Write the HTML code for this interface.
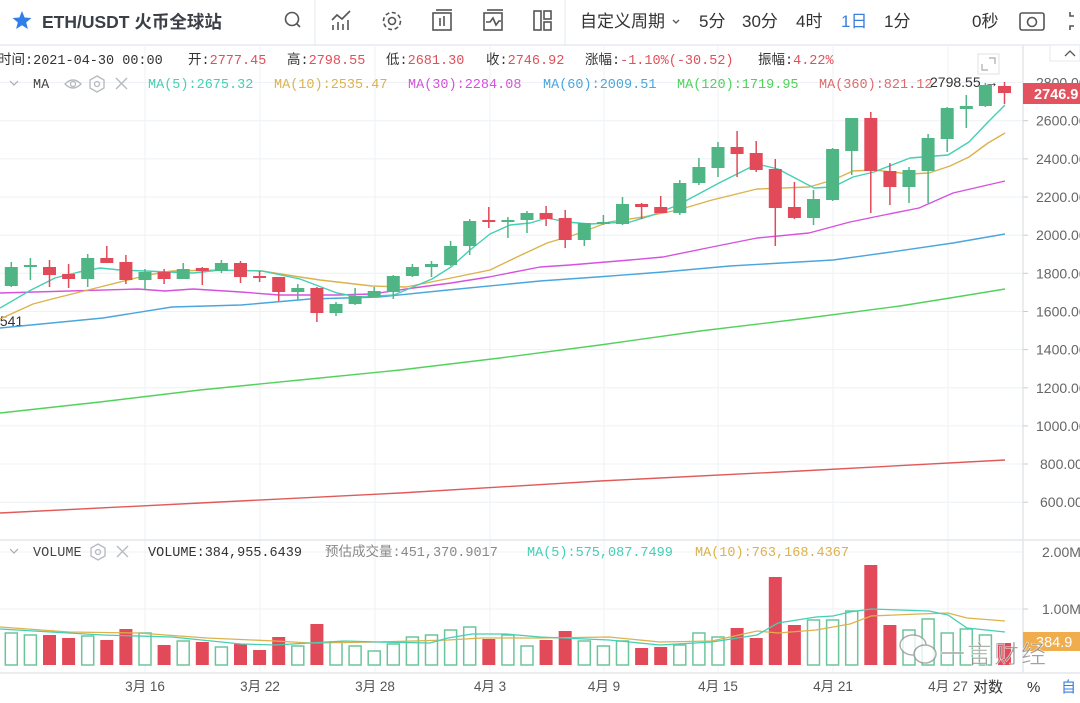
<!DOCTYPE html>
<html><head><meta charset="utf-8"><style>
html,body{margin:0;padding:0;background:#fff;}
body{width:1080px;height:698px;overflow:hidden;position:relative;font-family:"Liberation Sans","Noto Sans CJK SC",sans-serif;}
svg text{font-family:"Liberation Sans","Noto Sans CJK SC",sans-serif;}
.m{font-family:"Liberation Mono","Noto Sans CJK SC",monospace !important;font-size:13.5px;}
</style></head><body>
<svg width="1080" height="698" viewBox="0 0 1080 698" xmlns="http://www.w3.org/2000/svg">
<line x1="0" y1="45" x2="1080" y2="45" stroke="#e6eaef" stroke-width="1.5"/>
<line x1="315" y1="0" x2="315" y2="45" stroke="#e6eaef"/>
<line x1="565" y1="0" x2="565" y2="45" stroke="#e6eaef"/>
<polygon points="22,11 24.6,17.5 31.5,18 26.2,22.4 27.9,29 22,25.3 16.1,29 17.8,22.4 12.5,18 19.4,17.5" fill="#2f7fe8"/>
<text x="42" y="28" font-size="17.5" font-weight="bold" fill="#3a3f48">ETH/USDT 火币全球站</text>
<g fill="none" stroke="#555" stroke-width="1.6">
<circle cx="292" cy="19" r="6.5"/><line x1="297" y1="24" x2="300" y2="27"/>
<polyline points="332,20 337,15 342,19 350,11"/><line x1="333" y1="30" x2="333" y2="25"/><line x1="338" y1="30" x2="338" y2="22"/><line x1="343" y1="30" x2="343" y2="24"/><line x1="348" y1="30" x2="348" y2="20"/>
<circle cx="392" cy="21" r="3.5"/><circle cx="392" cy="21" r="8.5" stroke-dasharray="4 2.6"/>
<rect x="433" y="13" width="18" height="17"/><line x1="436" y1="10" x2="452" y2="10"/><line x1="440" y1="18" x2="440" y2="26"/><line x1="444" y1="16" x2="444" y2="26"/>
<rect x="484" y="13" width="18" height="17"/><line x1="487" y1="10" x2="503" y2="10"/><polyline points="486,22 490,22 493,18 496,25 499,21 501,21"/>
<rect x="534" y="11" width="7" height="19"/><rect x="544" y="11" width="7" height="8"/><rect x="544" y="22" width="7" height="8"/>
<rect x="1020" y="13" width="24" height="17" rx="2"/><circle cx="1032" cy="22" r="4.5"/>
<polyline points="1070,12 1070,16 1074,16"/><polyline points="1070,30 1070,26 1074,26"/>
</g>
<text x="580" y="27" font-size="17" fill="#333">自定义周期</text>
<polyline points="673,20 676,23 679,20" fill="none" stroke="#555" stroke-width="1.3"/>
<text x="699" y="27" font-size="17" fill="#333">5分</text>
<text x="742" y="27" font-size="17" fill="#333">30分</text>
<text x="796" y="27" font-size="17" fill="#333">4时</text>
<text x="841" y="27" font-size="17" fill="#3a7fe0">1日</text>
<text x="884" y="27" font-size="17" fill="#333">1分</text>
<text x="972" y="27" font-size="17" fill="#333">0秒</text>

<g stroke="#eef2f6" stroke-width="1">
<line x1="0" y1="82.5" x2="1023" y2="82.5"/><line x1="0" y1="120.7" x2="1023" y2="120.7"/><line x1="0" y1="158.9" x2="1023" y2="158.9"/><line x1="0" y1="197" x2="1023" y2="197"/><line x1="0" y1="235.2" x2="1023" y2="235.2"/><line x1="0" y1="273.3" x2="1023" y2="273.3"/><line x1="0" y1="311.5" x2="1023" y2="311.5"/><line x1="0" y1="349.6" x2="1023" y2="349.6"/><line x1="0" y1="387.8" x2="1023" y2="387.8"/><line x1="0" y1="425.9" x2="1023" y2="425.9"/><line x1="0" y1="464" x2="1023" y2="464"/><line x1="0" y1="502.2" x2="1023" y2="502.2"/>
<line x1="0" y1="552" x2="1023" y2="552"/><line x1="0" y1="609" x2="1023" y2="609"/>
<line x1="145" y1="45" x2="145" y2="672"/><line x1="260" y1="45" x2="260" y2="672"/><line x1="375" y1="45" x2="375" y2="672"/><line x1="490" y1="45" x2="490" y2="672"/><line x1="604" y1="45" x2="604" y2="672"/><line x1="718" y1="45" x2="718" y2="672"/><line x1="833" y1="45" x2="833" y2="672"/><line x1="948" y1="45" x2="948" y2="672"/>
</g>
<line x1="0" y1="540" x2="1080" y2="540" stroke="#e3e7ec" stroke-width="1.5"/>
<line x1="0" y1="673" x2="1080" y2="673" stroke="#e3e7ec" stroke-width="1.5"/>
<line x1="1023" y1="45" x2="1023" y2="673" stroke="#e3e7ec" stroke-width="1.5"/>
<g stroke="#ccc"><line x1="1023" y1="120.7" x2="1028" y2="120.7"/><line x1="1023" y1="158.9" x2="1028" y2="158.9"/><line x1="1023" y1="197" x2="1028" y2="197"/><line x1="1023" y1="235.2" x2="1028" y2="235.2"/><line x1="1023" y1="273.3" x2="1028" y2="273.3"/><line x1="1023" y1="311.5" x2="1028" y2="311.5"/><line x1="1023" y1="349.6" x2="1028" y2="349.6"/><line x1="1023" y1="387.8" x2="1028" y2="387.8"/><line x1="1023" y1="425.9" x2="1028" y2="425.9"/><line x1="1023" y1="464" x2="1028" y2="464"/><line x1="1023" y1="502.2" x2="1028" y2="502.2"/><line x1="1023" y1="609" x2="1028" y2="609"/></g>

<g font-size="14" fill="#666">
<text x="1036" y="87.5">2800.00</text><text x="1036" y="125.7">2600.00</text><text x="1036" y="163.9">2400.00</text><text x="1036" y="202">2200.00</text><text x="1036" y="240.2">2000.00</text><text x="1036" y="278.3">1800.00</text><text x="1036" y="316.5">1600.00</text><text x="1036" y="354.6">1400.00</text><text x="1036" y="392.8">1200.00</text><text x="1036" y="430.9">1000.00</text><text x="1040" y="469">800.00</text><text x="1040" y="507.2">600.00</text>
<text x="1042" y="557">2.00M</text><text x="1042" y="614">1.00M</text>
</g>
<rect x="1023" y="83" width="57" height="21" fill="#e2535f"/>
<text x="1034" y="99" font-size="14.5" font-weight="bold" fill="#fff">2746.9</text>
<rect x="1023" y="632" width="57" height="19" fill="#f0ad4e"/>
<text x="1036" y="647" font-size="14.5" fill="#fff">384.9</text>

<text class="m" x="-2" y="64" fill="#333">时间:2021-04-30 00:00</text>
<text class="m" x="188" y="64" fill="#333">开:<tspan fill="#e0505a">2777.45</tspan></text>
<text class="m" x="287" y="64" fill="#333">高:<tspan fill="#e0505a">2798.55</tspan></text>
<text class="m" x="386" y="64" fill="#333">低:<tspan fill="#e0505a">2681.30</tspan></text>
<text class="m" x="486" y="64" fill="#333">收:<tspan fill="#e0505a">2746.92</tspan></text>
<text class="m" x="585" y="64" fill="#333">涨幅:<tspan fill="#e0505a">-1.10%(-30.52)</tspan></text>
<text class="m" x="758" y="64" fill="#333">振幅:<tspan fill="#e0505a">4.22%</tspan></text>

<polyline points="10,81 14,85 18,81" fill="none" stroke="#aaa" stroke-width="1.2"/>
<text class="m" x="33" y="88" fill="#444">MA</text>
<g fill="none" stroke="#b5b8bf" stroke-width="1.3">
<path d="M65,84 Q73,76 81,84 Q73,92 65,84Z"/><circle cx="73" cy="84" r="2.5"/>
<polygon points="97,76 104,80 104,88 97,92 90,88 90,80"/><circle cx="97" cy="84" r="2.5"/>
<line x1="116" y1="78" x2="127" y2="89"/><line x1="127" y1="78" x2="116" y2="89"/>
</g>
<text class="m" x="148" y="88" fill="#45cfb3">MA(5):2675.32</text>
<text class="m" x="274" y="88" fill="#dcb24c">MA(10):2535.47</text>
<text class="m" x="408" y="88" fill="#d651de">MA(30):2284.08</text>
<text class="m" x="543" y="88" fill="#4aa6dc">MA(60):2009.51</text>
<text class="m" x="677" y="88" fill="#4fd25a">MA(120):1719.95</text>
<text class="m" x="819" y="88" fill="#e06a6a">MA(360):821.12</text>
<text x="930" y="87" font-size="14" fill="#333">2798.55 →</text>
<g fill="none" stroke="#aaa" stroke-width="1.2"><rect x="978" y="54" width="21" height="20" stroke="#e6e6e6"/><polyline points="989,58 995,58 995,64"/><polyline points="982,64 982,70 988,70"/></g>
<rect x="1050" y="45" width="30" height="16" fill="#fff" stroke="#e6eaef"/>
<polyline points="1065,56 1070,51 1075,56" fill="none" stroke="#555" stroke-width="1.3"/>
<text x="-4" y="326" font-size="14" fill="#333">.541</text>

<g fill="none" stroke-width="1.4" stroke-linejoin="round">
<polyline stroke="#e05a5a" points="0,513 200,503 400,493 600,481 800,471 1005,460"/>
<polyline stroke="#52d25c" points="0,413 100,402 200,390 300,380 400,370 500,358 600,345 700,331 800,319 900,306 950,298 1005,289"/>
<polyline stroke="#4aa6dc" points="0,328 103,318 172,307 241,305 310,299 379,297 448,290 540,281 597,277 663,272 730,266 833,260 884,253 953,243 1005,234"/>
<polyline stroke="#d651de" points="0,293 138,289 165,291 193,289 241,292 279,295 337,295 372,294 413,288 451,283 489,277 540,267 570,265 630,260 663,257 712,247 757,238 809,233 850,222 884,215 919,208 953,193 1005,181"/>
<polyline stroke="#dcb24c" points="0,319 33,304 52,299 100,287 148,275 172,271 220,270 262,271 300,277 320,280 372,286 406,287 451,278 490,270 517,257 547,243 574,235 609,222 643,217 678,210 712,200 757,189 809,187 833,180 853,171 874,170 910,174 929,173 950,166 969,157 988,143 1005,133"/>
<polyline stroke="#45cfb3" points="0,308 31,290 55,278 79,272 100,268 120,270 145,271 193,273 220,270 262,271 300,279 337,293 358,297 394,295 413,287 432,279 451,267 470,250 490,234 510,225 530,223 547,218 567,222 590,224 607,223 630,222 650,216 678,205 719,183 757,164 778,169 814,188 833,187 853,177 874,172 910,158 948,155 969,142 988,122 1005,105"/>
</g>

<path fill="none" stroke="#4fb584" stroke-width="1.5" d="M-7.8 280V305 M11.3 262V287 M30.4 258V280 M87.7 254V287 M145 269V289 M183.2 263V279 M221.4 260V273 M297.8 284V300 M336 302V316 M355.1 288V305 M374.2 287V297 M393.3 275V299 M412.4 264V277 M431.5 261V277 M450.6 241V266 M469.7 219V255 M507.9 217V238 M527 211V233 M584.3 223V246 M603.4 215V225 M622.5 197V225 M679.8 180V215 M698.9 158V185 M718 142V177 M813.5 190V225 M832.6 148V201 M851.7 118V175 M909 167V203 M928.1 134V203 M947.2 107V152 M966.3 95V128 M985.4 83V107"/>
<path fill="none" stroke="#e34a59" stroke-width="1.5" d="M49.5 260V287 M68.6 264V288 M106.8 246V263 M125.9 255V284 M164.1 269V284 M202.3 267V285 M240.5 261V283 M259.6 271V282 M278.7 277V301 M316.9 287V322 M488.8 207V228 M546.1 206V226 M565.2 210V248 M641.6 203V219 M660.7 196V213 M737.1 131V177 M756.2 141V172 M775.3 159V246 M794.4 182V219 M870.8 112V213 M889.9 163V205 M1004.5 82V104"/>
<g fill="#4fb584">
<rect x="-14.3" y="285" width="13" height="15"/><rect x="4.8" y="267" width="13" height="19"/><rect x="23.9" y="265" width="13" height="2"/><rect x="81.2" y="258" width="13" height="21"/><rect x="138.5" y="272" width="13" height="8"/><rect x="176.7" y="269" width="13" height="10"/><rect x="214.9" y="263" width="13" height="8"/><rect x="291.3" y="288" width="13" height="4"/><rect x="329.5" y="304" width="13" height="9"/><rect x="348.6" y="296" width="13" height="8"/><rect x="367.7" y="291" width="13" height="6"/><rect x="386.8" y="276" width="13" height="16"/><rect x="405.9" y="267" width="13" height="9"/><rect x="425" y="264" width="13" height="3"/><rect x="444.1" y="246" width="13" height="19"/><rect x="463.2" y="221" width="13" height="25"/><rect x="501.4" y="220" width="13" height="2"/><rect x="520.5" y="213" width="13" height="7"/><rect x="577.8" y="223" width="13" height="17"/><rect x="596.9" y="222" width="13" height="2"/><rect x="616" y="204" width="13" height="20"/><rect x="673.3" y="183" width="13" height="30"/><rect x="692.4" y="167" width="13" height="16"/><rect x="711.5" y="147" width="13" height="21"/><rect x="807" y="199" width="13" height="19"/><rect x="826.1" y="149" width="13" height="51"/><rect x="845.2" y="118" width="13" height="33"/><rect x="902.5" y="170" width="13" height="17"/><rect x="921.6" y="138" width="13" height="33"/><rect x="940.7" y="108" width="13" height="31"/><rect x="959.8" y="106" width="13" height="3"/><rect x="978.9" y="85" width="13" height="21"/>
</g>
<g fill="#e34a59">
<rect x="43" y="267" width="13" height="8"/><rect x="62.1" y="274" width="13" height="5"/><rect x="100.3" y="258" width="13" height="5"/><rect x="119.4" y="262" width="13" height="18"/><rect x="157.6" y="272" width="13" height="7"/><rect x="195.8" y="268" width="13" height="3"/><rect x="234" y="263" width="13" height="14"/><rect x="253.1" y="276" width="13" height="2"/><rect x="272.2" y="277" width="13" height="15"/><rect x="310.4" y="288" width="13" height="25"/><rect x="482.3" y="220" width="13" height="2"/><rect x="539.6" y="213" width="13" height="6"/><rect x="558.7" y="218" width="13" height="22"/><rect x="635.1" y="204" width="13" height="3"/><rect x="654.2" y="207" width="13" height="6"/><rect x="730.6" y="147" width="13" height="7"/><rect x="749.7" y="153" width="13" height="17"/><rect x="768.8" y="169" width="13" height="39"/><rect x="787.9" y="207" width="13" height="11"/><rect x="864.3" y="118" width="13" height="53"/><rect x="883.4" y="171" width="13" height="16"/><rect x="998" y="86" width="13" height="7"/>
</g>

<polyline points="10,549 14,553 18,549" fill="none" stroke="#aaa" stroke-width="1.2"/>
<text class="m" x="33" y="556" fill="#444">VOLUME</text>
<g fill="none" stroke="#b5b8bf" stroke-width="1.3"><polygon points="98,544 105,548 105,556 98,560 91,556 91,548"/><circle cx="98" cy="552" r="2.5"/><line x1="117" y1="546" x2="128" y2="557"/><line x1="128" y1="546" x2="117" y2="557"/></g>
<text class="m" x="148" y="556" fill="#333">VOLUME:384,955.6439</text>
<text class="m" x="325" y="556" fill="#888">预估成交量:451,370.9017</text>
<text class="m" x="527" y="556" fill="#45cfb3">MA(5):575,087.7499</text>
<text class="m" x="695" y="556" fill="#dcb24c">MA(10):763,168.4367</text>

<g fill="#fff" stroke="#6cc59a" stroke-width="1.5">
<rect x="-13.8" y="628" width="12" height="37"/><rect x="5.3" y="633" width="12" height="32"/><rect x="24.4" y="635" width="12" height="30"/><rect x="81.7" y="636" width="12" height="29"/><rect x="139" y="633" width="12" height="32"/><rect x="177.2" y="641" width="12" height="24"/><rect x="215.4" y="647" width="12" height="18"/><rect x="291.8" y="646" width="12" height="19"/><rect x="330" y="642" width="12" height="23"/><rect x="349.1" y="646" width="12" height="19"/><rect x="368.2" y="651" width="12" height="14"/><rect x="387.3" y="644" width="12" height="21"/><rect x="406.4" y="637" width="12" height="28"/><rect x="425.5" y="635" width="12" height="30"/><rect x="444.6" y="630" width="12" height="35"/><rect x="463.7" y="627" width="12" height="38"/><rect x="501.9" y="635" width="12" height="30"/><rect x="521" y="646" width="12" height="19"/><rect x="578.3" y="641" width="12" height="24"/><rect x="597.4" y="646" width="12" height="19"/><rect x="616.5" y="641" width="12" height="24"/><rect x="673.8" y="645" width="12" height="20"/><rect x="692.9" y="633" width="12" height="32"/><rect x="712" y="637" width="12" height="28"/><rect x="807.5" y="620" width="12" height="45"/><rect x="826.6" y="620" width="12" height="45"/><rect x="845.7" y="611" width="12" height="54"/><rect x="903" y="630" width="12" height="35"/><rect x="922.1" y="619" width="12" height="46"/><rect x="941.2" y="633" width="12" height="32"/><rect x="960.3" y="629" width="12" height="36"/><rect x="979.4" y="635" width="12" height="30"/>
</g>
<g fill="#e34a59">
<rect x="43" y="635" width="13" height="30"/><rect x="62.1" y="638" width="13" height="27"/><rect x="100.3" y="640" width="13" height="25"/><rect x="119.4" y="629" width="13" height="36"/><rect x="157.6" y="645" width="13" height="20"/><rect x="195.8" y="642" width="13" height="23"/><rect x="234" y="644" width="13" height="21"/><rect x="253.1" y="650" width="13" height="15"/><rect x="272.2" y="637" width="13" height="28"/><rect x="310.4" y="624" width="13" height="41"/><rect x="482.3" y="639" width="13" height="26"/><rect x="539.6" y="640" width="13" height="25"/><rect x="558.7" y="631" width="13" height="34"/><rect x="635.1" y="648" width="13" height="17"/><rect x="654.2" y="647" width="13" height="18"/><rect x="730.6" y="628" width="13" height="37"/><rect x="749.7" y="638" width="13" height="27"/><rect x="768.8" y="577" width="13" height="88"/><rect x="787.9" y="625" width="13" height="40"/><rect x="864.3" y="565" width="13" height="100"/><rect x="883.4" y="625" width="13" height="40"/><rect x="998" y="643" width="13" height="22"/>
</g>
<g fill="none" stroke-width="1.3">
<polyline stroke="#dcb24c" points="0,627 69,632 138,633 207,638 275,641 310,643 379,642 448,640 482,638 540,638 609,637 660,642 712,641 757,631 778,633 816,630 850,624 871,616 919,614 948,613 967,618 1005,621"/>
<polyline stroke="#45cfb3" points="0,629 34,631 103,635 172,637 241,644 275,645 310,643 344,641 379,642 430,643 448,638 472,634 506,634 540,637 609,640 660,645 712,642 757,635 778,623 816,617 833,616 850,612 871,609 929,611 948,615 967,628 1005,632"/>
</g>

<g opacity="0.8">
<ellipse cx="913" cy="645" rx="13" ry="10" fill="#fff" stroke="#999" stroke-width="1.5"/>
<ellipse cx="925" cy="654" rx="11" ry="9" fill="#fff" stroke="#999" stroke-width="1.5"/>
<text x="940" y="663" font-size="25" fill="#8a8a8a" stroke="#fff" stroke-width="0.5" textLength="106">一言财经</text>
</g>

<g font-size="13.5" fill="#555" text-anchor="middle">
<text x="145" y="691">3月 16</text><text x="260" y="691">3月 22</text><text x="375" y="691">3月 28</text><text x="490" y="691">4月 3</text><text x="604" y="691">4月 9</text><text x="718" y="691">4月 15</text><text x="833" y="691">4月 21</text><text x="948" y="691">4月 27</text>
</g>
<text x="973" y="692" font-size="15" fill="#333">对数</text>
<text x="1027" y="692" font-size="15" fill="#333">%</text>
<text x="1061" y="692" font-size="15" fill="#3a7fe0">自</text>
</svg>
</body></html>
